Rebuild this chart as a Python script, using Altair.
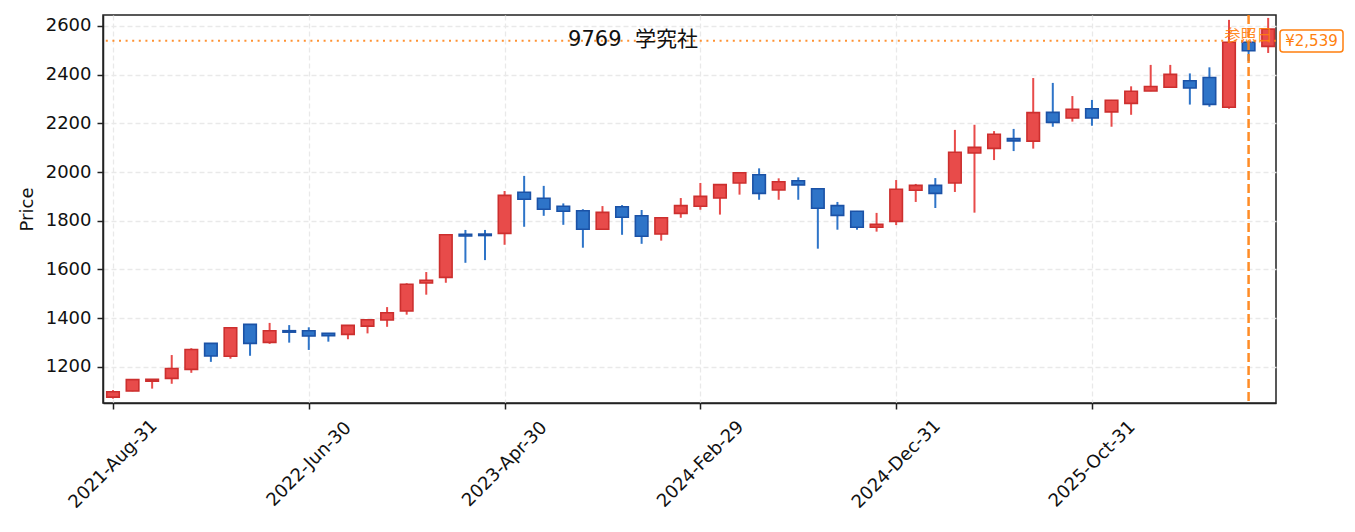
import altair as alt
import pandas as pd

# ---- data ----
opens = [1075, 1100, 1141, 1152, 1189, 1296, 1243, 1374, 1300, 1348,
         1348, 1337, 1333, 1367, 1392, 1429, 1544, 1567, 1744, 1745,
         1748, 1917, 1892, 1859, 1841, 1765, 1857, 1820, 1745, 1830,
         1859, 1893, 1955, 1989, 1926, 1964, 1931, 1862, 1839, 1773,
         1797, 1925, 1945, 1955, 2078, 2097, 2137, 2127, 2245, 2222,
         2260, 2247, 2282, 2333, 2348, 2375, 2388, 2266, 2533, 2516]
highs = [1104, 1148, 1149, 1248, 1276, 1297, 1361, 1375, 1380, 1371,
         1362, 1338, 1371, 1394, 1445, 1543, 1589, 1743, 1762, 1762,
         1922, 1984, 1943, 1871, 1847, 1860, 1864, 1844, 1813, 1893,
         1955, 1949, 1998, 2015, 1974, 1978, 1932, 1877, 1840, 1832,
         1967, 1951, 1975, 2173, 2194, 2168, 2177, 2386, 2366, 2312,
         2296, 2296, 2352, 2440, 2440, 2405, 2430, 2625, 2536, 2633]
lows = [1069, 1099, 1110, 1130, 1175, 1220, 1233, 1245, 1294, 1299,
        1269, 1303, 1313, 1337, 1364, 1414, 1496, 1545, 1627, 1638,
        1701, 1775, 1820, 1783, 1689, 1764, 1742, 1705, 1718, 1812,
        1845, 1825, 1907, 1886, 1886, 1886, 1685, 1763, 1763, 1755,
        1782, 1877, 1852, 1918, 1833, 2049, 2086, 2096, 2186, 2207,
        2190, 2186, 2235, 2332, 2347, 2277, 2268, 2260, 2456, 2489]
closes = [1097, 1147, 1148, 1193, 1271, 1244, 1360, 1296, 1348, 1342,
          1326, 1327, 1370, 1393, 1422, 1539, 1555, 1742, 1737, 1739,
          1904, 1888, 1847, 1839, 1765, 1834, 1814, 1736, 1812, 1862,
          1900, 1948, 1997, 1912, 1960, 1947, 1851, 1822, 1773, 1785,
          1929, 1945, 1912, 2081, 2101, 2155, 2128, 2244, 2204, 2258,
          2222, 2295, 2332, 2351, 2401, 2345, 2278, 2533, 2498, 2587]

tick_positions = [0, 10, 20, 30, 40, 50]
tick_labels = ["2021-Aug-31", "2022-Jun-30", "2023-Apr-30",
               "2024-Feb-29", "2024-Dec-31", "2025-Oct-31"]

ref_price = 2539
ref_index = 58
ref_label = "参照日"
title_text = "9769\u00a0\u00a0学究社"

# ---- styles ----
FONT = "DejaVu Sans, Noto Sans CJK JP"
UP_FILL, UP_STROKE = "#E84B4A", "#CC2F2E"
DN_FILL, DN_STROKE = "#2E74C8", "#1B52A6"
ORANGE = "#FF7F0E"

df = pd.DataFrame({
    "idx": list(range(len(opens))),
    "open": opens, "high": highs, "low": lows, "close": closes,
})
df["dir"] = ["up" if c >= o else "down" for o, c in zip(opens, closes)]

label_map = "{" + ",".join(f"'{p}':'{l}'" for p, l in zip(tick_positions, tick_labels)) + "}"

x_scale = alt.Scale(domain=[-0.51, 59.4], nice=False, zero=False)
y_scale = alt.Scale(domain=[1051, 2645], nice=False, zero=False)

x_axis = alt.Axis(values=tick_positions, labelExpr=f"{label_map}[datum.value]",
                  labelAngle=-45, labelAlign="center", labelBaseline="middle",
                  labelPadding=55, labelOverlap=False, labelBound=False,
                  title=None, grid=True)
y_axis = alt.Axis(values=list(range(1200, 2601, 200)), format="d", title="Price",
                  titlePadding=9, labelPadding=6, grid=True)

base = alt.Chart(df)

wicks = base.mark_rule(strokeWidth=2).encode(
    x=alt.X("idx:Q", scale=x_scale, axis=x_axis),
    y=alt.Y("low:Q", scale=y_scale, axis=y_axis),
    y2="high:Q",
    color=alt.Color("dir:N", scale=alt.Scale(domain=["up", "down"], range=[UP_FILL, DN_FILL]),
                    legend=None),
)

bodies = base.transform_calculate(
    x0="datum.idx - 0.32", x1="datum.idx + 0.32",
    lo="min(datum.open, datum.close)", hi="max(datum.open, datum.close)",
).mark_rect(strokeWidth=1.6).encode(
    x=alt.X("x0:Q", scale=x_scale),
    x2="x1:Q",
    y=alt.Y("lo:Q", scale=y_scale),
    y2="hi:Q",
    fill=alt.Fill("dir:N", scale=alt.Scale(domain=["up", "down"], range=[UP_FILL, DN_FILL]),
                  legend=None),
    stroke=alt.Stroke("dir:N", scale=alt.Scale(domain=["up", "down"], range=[UP_STROKE, DN_STROKE]),
                      legend=None),
)

ref_df = pd.DataFrame({"p": [ref_price], "i": [ref_index],
                       "lab": [ref_label], "txt": [f"¥{ref_price:,}"]})
ref_base = alt.Chart(ref_df)

hline = ref_base.mark_rule(color=ORANGE, strokeWidth=2, strokeDash=[2, 4.6], opacity=0.85).encode(
    y=alt.Y("p:Q", scale=y_scale))
vline = ref_base.mark_rule(color=ORANGE, strokeWidth=2.5, strokeDash=[9, 4], opacity=0.9).encode(
    x=alt.X("i:Q", scale=x_scale))
ref_text = ref_base.mark_text(color=ORANGE, font=FONT, fontSize=16, align="center",
                              baseline="middle", opacity=0.9).encode(
    x=alt.X("i:Q", scale=x_scale), y=alt.value(21), text="lab:N")
box = ref_base.mark_rect(fill="white", stroke=ORANGE, strokeWidth=1.5, cornerRadius=3).encode(
    x=alt.value(1177), x2=alt.value(1240), y=alt.value(15), y2=alt.value(37))
box_text = ref_base.mark_text(color=ORANGE, font=FONT, fontSize=15, align="center",
                              baseline="middle").encode(
    x=alt.value(1208.5), y=alt.Y("p:Q", scale=y_scale), text="txt:N")

title = ref_base.mark_text(color="#111", font=FONT, fontSize=21, align="center",
                           baseline="middle").encode(
    x=alt.value(530), y=alt.value(25), text=alt.value(title_text))

chart = alt.layer(wicks, bodies, hline, vline, ref_text, title, box, box_text).properties(
    width=1173, height=388,
    padding={"left": 95, "top": 7, "right": 70, "bottom": 120},
    autosize=alt.AutoSizeParams(type="none"),
).configure_view(
    stroke="#222222", strokeWidth=1.5
).configure_axis(
    labelFont=FONT, titleFont=FONT, labelFontSize=18, titleFontSize=18,
    titleFontWeight="normal", labelColor="#111", titleColor="#111",
    domainColor="#222222", domainWidth=1.5, tickColor="#222222", tickWidth=1.5,
    tickSize=6, gridColor="#e9e9e9", gridDash=[5, 3], gridWidth=1.3,
)

chart.save("out.html", embed_options={"renderer": "svg", "actions": False})
